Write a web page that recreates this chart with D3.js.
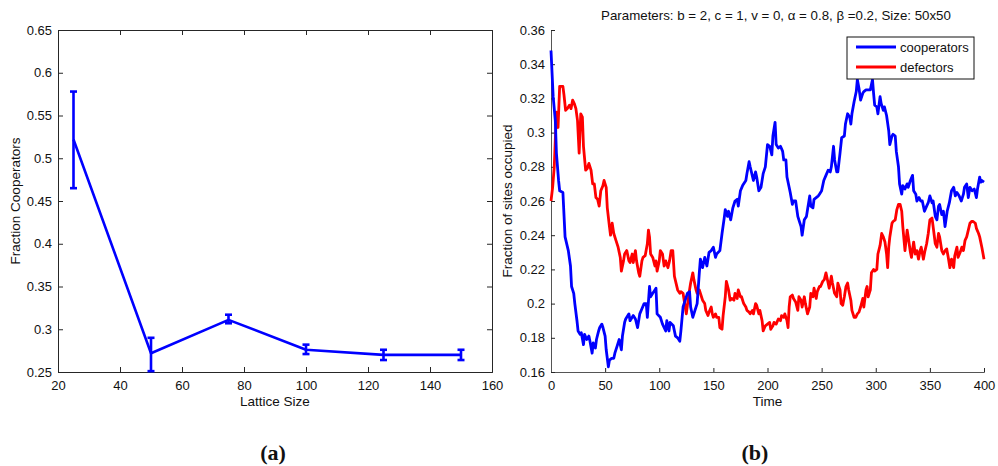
<!DOCTYPE html>
<html>
<head>
<meta charset="utf-8">
<script src="https://cdn.jsdelivr.net/npm/d3@7"></script>
<style>
  html, body { margin: 0; padding: 0; background: #fff; }
  svg { display: block; font-family: "Liberation Sans", Arial, Helvetica, sans-serif; }
</style>
</head>
<body>
<svg id="fig" width="998" height="466"></svg>
<script>
// ---- Panel (a): fraction of cooperators vs lattice size ----
const latticeSizes = [25, 50, 75, 100, 125, 150];
const coopMean     = [0.522, 0.272, 0.311, 0.276, 0.270, 0.270];
const coopLow      = [0.465, 0.251, 0.307, 0.271, 0.264, 0.264];
const coopHigh     = [0.578, 0.290, 0.317, 0.282, 0.276, 0.276];
const sizeTicks    = [20, 40, 60, 80, 100, 120, 140, 160];
const fracTicks    = [0.25, 0.3, 0.35, 0.4, 0.45, 0.5, 0.55, 0.6, 0.65];

// ---- Panel (b): occupation fractions over time ----
const coopTime = [0,2,4,5,7,8,11,13,16,18,19,21,22,24,25,27,28,30,31,33,35,36,38,39,41,42,44,45,47,48,50,51,53,54,56,58,59,61,63,65,66,68,69,72,73,76,78,80,82,84,86,88,89,91,92,94,96,97,98,101,103,106,107,109,110,113,115,117,119,120,122,124,126,128,129,131,133,135,137,138,140,142,144,146,148,150,152,153,156,158,160,161,163,164,166,168,170,172,173,175,177,180,181,183,184,187,189,190,192,194,196,198,200,202,204,205,207,208,210,212,214,215,217,218,220,221,223,224,226,228,229,231,232,234,236,237,239,240,242,243,245,247,248,250,252,254,256,258,259,261,262,264,265,267,268.5,271,272,274,276,277,278,280,282,283,284.5,286,288,289,291,292,295,297,298,299,301,302,304,305,307,308,310,312,313,315,316,318,319,321,322,324,325,327,329,330,332,334,335,337,338,340,341.5,343,345,347,348.5,350,352,353,355,356.5,358,359,361,362.5,364,366,368,370,372,373.5,375,377,379,381,382,384,385.5,387,389,391,393,394,396,397,398,400];
const coopFrac = [0.348,0.321,0.307,0.288,0.272,0.266,0.265,0.239,0.231,0.222,0.210,0.206,0.200,0.190,0.184,0.182,0.183,0.176,0.182,0.179,0.181,0.178,0.171,0.177,0.174,0.179,0.184,0.186,0.188,0.186,0.181,0.173,0.163,0.167,0.168,0.168,0.171,0.175,0.179,0.173,0.181,0.189,0.191,0.194,0.190,0.193,0.191,0.186,0.194,0.197,0.200,0.200,0.192,0.210,0.204,0.206,0.208,0.209,0.194,0.192,0.188,0.184,0.190,0.184,0.189,0.187,0.181,0.180,0.178,0.184,0.198,0.202,0.206,0.207,0.198,0.192,0.196,0.200,0.218,0.226,0.221,0.227,0.222,0.230,0.231,0.233,0.227,0.229,0.231,0.241,0.250,0.255,0.251,0.254,0.249,0.256,0.260,0.261,0.257,0.266,0.269,0.272,0.276,0.283,0.280,0.272,0.277,0.274,0.266,0.268,0.276,0.280,0.293,0.292,0.287,0.298,0.306,0.293,0.291,0.292,0.289,0.284,0.284,0.274,0.268,0.265,0.258,0.260,0.260,0.251,0.249,0.245,0.240,0.249,0.251,0.255,0.263,0.257,0.256,0.261,0.262,0.263,0.264,0.266,0.272,0.275,0.278,0.277,0.280,0.292,0.284,0.277,0.277,0.288,0.297,0.298,0.305,0.311,0.309,0.305,0.311,0.318,0.324,0.331,0.326,0.319,0.323,0.324,0.325,0.325,0.325,0.331,0.323,0.316,0.315,0.311,0.321,0.317,0.313,0.315,0.310,0.301,0.293,0.298,0.299,0.298,0.289,0.280,0.270,0.264,0.269,0.267,0.270,0.268,0.272,0.275,0.266,0.264,0.260,0.262,0.260,0.260,0.254,0.257,0.259,0.263,0.259,0.260,0.251,0.249,0.257,0.258,0.252,0.254,0.245,0.254,0.259,0.266,0.268,0.263,0.265,0.263,0.260,0.264,0.268,0.270,0.262,0.268,0.266,0.267,0.262,0.267,0.274,0.271,0.272,0.271];

const defTime = [0,1.5,3,4,5,6.5,8,9,11,12,13.5,15,17,18.5,20,21.5,23,24.5,26,27.5,29,30,32,33.5,35,37,38.5,40,41.5,43,44.5,46,48,49,51,52,54,55,56.5,58,60,62,64,65,67,68,70,72,73,75,76,78,79,81,82,84,85,87,89,90,91,92,94,96,97,98,100,101,103,104.5,106,108,109.5,111,112.5,114,115.5,117,119,120,122,123,125,126,128,129,131,132,134,135,137,139,140,142,143,145,146,148,149,150,152,153,155,156,158,159,161,162,164,165.5,167,169,170,172,173,175,176,178,180,181,183,184,186,187,189,190,192,193,195,196,198,200,202,203,205,206,208,210,212,213,215,216,218,219,220,221,223,224,226,228,229,231,232,234,235,237,239,240,242,243,245,246,248,249,251,252.5,254,256,257,259,260,262,264,265,267,268,269.5,271,272.5,274,275,277,278,280,281.5,283,284.5,286,288,289,291,292,293,295,296,298,299,301,302,304,305.5,307,308.5,310,311,312,313,315,316,318,319.5,321,322.5,324,325,327,329,330,332,333,335,336.5,338,339.5,341,342,344,345.5,347,348.5,350,352,353,355,356.5,358,359,361,362.5,364,365.5,367,368.5,370,372,373,375,376,378,379.5,381,382.5,384,385.5,387,388.5,390,392,393,395,396,398,400];
const defFrac = [0.260,0.268,0.280,0.296,0.312,0.303,0.327,0.327,0.327,0.322,0.313,0.314,0.316,0.314,0.319,0.317,0.314,0.307,0.288,0.311,0.309,0.292,0.278,0.279,0.282,0.278,0.270,0.270,0.262,0.261,0.257,0.266,0.269,0.272,0.268,0.256,0.245,0.240,0.247,0.241,0.237,0.233,0.227,0.219,0.225,0.229,0.231,0.225,0.224,0.229,0.224,0.231,0.225,0.218,0.216,0.225,0.227,0.228,0.235,0.243,0.239,0.229,0.227,0.222,0.225,0.219,0.225,0.231,0.229,0.222,0.225,0.221,0.225,0.231,0.231,0.216,0.212,0.208,0.206,0.207,0.206,0.202,0.194,0.199,0.208,0.212,0.218,0.214,0.208,0.206,0.208,0.204,0.202,0.200,0.196,0.193,0.195,0.198,0.194,0.192,0.194,0.192,0.192,0.186,0.185,0.193,0.204,0.213,0.208,0.202,0.203,0.202,0.206,0.203,0.208,0.204,0.204,0.200,0.198,0.196,0.195,0.194,0.196,0.194,0.200,0.199,0.194,0.196,0.190,0.184,0.187,0.188,0.189,0.185,0.187,0.189,0.188,0.191,0.190,0.193,0.192,0.194,0.190,0.186,0.198,0.204,0.205,0.203,0.201,0.196,0.204,0.202,0.198,0.204,0.200,0.194,0.198,0.206,0.204,0.209,0.203,0.207,0.210,0.210,0.213,0.214,0.218,0.212,0.209,0.216,0.212,0.206,0.204,0.212,0.208,0.200,0.199,0.204,0.210,0.212,0.208,0.202,0.196,0.192,0.192,0.194,0.195,0.198,0.203,0.198,0.208,0.210,0.204,0.208,0.218,0.220,0.219,0.220,0.229,0.234,0.241,0.239,0.236,0.229,0.221,0.233,0.239,0.247,0.248,0.249,0.255,0.258,0.258,0.254,0.245,0.231,0.243,0.239,0.230,0.227,0.236,0.229,0.231,0.226,0.231,0.233,0.226,0.231,0.235,0.241,0.249,0.250,0.245,0.235,0.233,0.241,0.239,0.231,0.229,0.231,0.232,0.227,0.221,0.226,0.221,0.228,0.233,0.227,0.230,0.233,0.231,0.237,0.239,0.243,0.247,0.248,0.248,0.247,0.244,0.241,0.239,0.233,0.226];

const timeTicks = [0, 50, 100, 150, 200, 250, 300, 350, 400];
const occTicks  = [0.16, 0.18, 0.2, 0.22, 0.24, 0.26, 0.28, 0.3, 0.32, 0.34, 0.36];
const seriesNames  = ["cooperators", "defectors"];
const seriesColors = ["#0000ff", "#ff0000"];
const titleText = "Parameters: b = 2, c = 1, v = 0, \u03b1 = 0.8, \u03b2 =0.2, Size: 50x50";

const svg = d3.select("#fig");
const axisColor = "#262626";
const labelSize = "13.5px";

function styleAxis(g) {
  g.selectAll("path.domain").attr("stroke", axisColor).attr("stroke-width", 1);
  g.selectAll(".tick line").attr("stroke", axisColor);
  g.selectAll(".tick text").attr("fill", "#111").style("font-size", "13px")
    .style("font-family", "'Liberation Sans', Arial, sans-serif");
}

// ================= Panel (a) =================
{
  const L = 58, R = 492, T = 30, B = 372;
  const x = d3.scaleLinear().domain([20, 160]).range([L, R]);
  const y = d3.scaleLinear().domain([0.25, 0.65]).range([B, T]);
  const g = svg.append("g");

  // bottom + left axes with inward ticks
  g.append("g").attr("transform", `translate(0,${B})`)
    .call(d3.axisBottom(x).tickValues(sizeTicks).tickSize(-5).tickPadding(9).tickFormat(d3.format("d")))
    .call(styleAxis);
  g.append("g").attr("transform", `translate(${L},0)`)
    .call(d3.axisLeft(y).tickValues(fracTicks).tickSize(-5).tickPadding(6).tickFormat(d => String(+d.toFixed(2))))
    .call(styleAxis);
  // top + right mirrored axes (box)
  g.append("g").attr("transform", `translate(0,${T})`)
    .call(d3.axisTop(x).tickValues(sizeTicks).tickSize(-5).tickFormat(""))
    .call(styleAxis);
  g.append("g").attr("transform", `translate(${R},0)`)
    .call(d3.axisRight(y).tickValues(fracTicks).tickSize(-5).tickFormat(""))
    .call(styleAxis);

  const pts = latticeSizes.map((s, i) => ({ s, m: coopMean[i], lo: coopLow[i], hi: coopHigh[i] }));
  const line = d3.line().x(d => x(d.s)).y(d => y(d.m));
  g.append("path").datum(pts).attr("d", line)
    .attr("fill", "none").attr("stroke", "#0000ff").attr("stroke-width", 2.6).attr("stroke-linejoin", "round");

  const eb = g.append("g").attr("stroke", "#0000ff").attr("stroke-width", 2.6);
  const cap = 3.5;
  pts.forEach(d => {
    eb.append("line").attr("x1", x(d.s)).attr("x2", x(d.s)).attr("y1", y(d.lo)).attr("y2", y(d.hi));
    eb.append("line").attr("x1", x(d.s) - cap).attr("x2", x(d.s) + cap).attr("y1", y(d.lo)).attr("y2", y(d.lo));
    eb.append("line").attr("x1", x(d.s) - cap).attr("x2", x(d.s) + cap).attr("y1", y(d.hi)).attr("y2", y(d.hi));
  });

  g.append("text").attr("x", (L + R) / 2).attr("y", 406).attr("text-anchor", "middle")
    .style("font-size", labelSize).attr("fill", "#111").text("Lattice Size");
  g.append("text").attr("transform", `translate(20,${(T + B) / 2}) rotate(-90)`).attr("text-anchor", "middle")
    .style("font-size", labelSize).attr("fill", "#111").text("Fraction Cooperators");
  g.append("text").attr("x", 273).attr("y", 460).attr("text-anchor", "middle")
    .style("font-family", "'Liberation Serif', 'DejaVu Serif', serif").style("font-weight", "bold")
    .style("font-size", "22px").attr("fill", "#111").text("(a)");
}

// ================= Panel (b) =================
{
  const L = 551, R = 984, T = 30, B = 372;
  const x = d3.scaleLinear().domain([0, 400]).range([L, R]);
  const y = d3.scaleLinear().domain([0.16, 0.36]).range([B, T]);
  const g = svg.append("g");

  g.append("g").attr("transform", `translate(0,${B})`)
    .call(d3.axisBottom(x).tickValues(timeTicks).tickSize(-4).tickPadding(9).tickFormat(d3.format("d")))
    .call(styleAxis);
  g.append("g").attr("transform", `translate(${L},0)`)
    .call(d3.axisLeft(y).tickValues(occTicks).tickSize(-4).tickPadding(6).tickFormat(d => String(+d.toFixed(2))))
    .call(styleAxis);
  g.selectAll("path.domain").attr("stroke", "#555");

  const series = [
    { name: seriesNames[0], color: seriesColors[0], data: coopTime.map((t, i) => [t, coopFrac[i]]) },
    { name: seriesNames[1], color: seriesColors[1], data: defTime.map((t, i) => [t, defFrac[i]]) }
  ];
  const line = d3.line().x(d => x(d[0])).y(d => y(d[1]));
  // defectors first so cooperators sit on top where they cross
  [series[1], series[0]].forEach(s => {
    g.append("path").datum(s.data).attr("d", line)
      .attr("fill", "none").attr("stroke", s.color).attr("stroke-width", 2.8)
      .attr("stroke-linejoin", "round");
  });

  // legend
  const lg = g.append("g").attr("transform", "translate(847,37)");
  lg.append("rect").attr("width", 127).attr("height", 42).attr("fill", "#fff")
    .attr("stroke", "#111").attr("stroke-width", 1);
  series.forEach((s, i) => {
    const yy = 10 + i * 20;
    lg.append("line").attr("x1", 9).attr("x2", 49).attr("y1", yy).attr("y2", yy)
      .attr("stroke", s.color).attr("stroke-width", 2.8);
    lg.append("text").attr("x", 53).attr("y", yy + 4.5).style("font-size", "13px")
      .attr("fill", "#111").text(s.name);
  });

  g.append("text").attr("x", 776).attr("y", 20).attr("text-anchor", "middle")
    .style("font-size", "13.3px").attr("fill", "#111").text(titleText);
  g.append("text").attr("x", (L + R) / 2).attr("y", 406).attr("text-anchor", "middle")
    .style("font-size", labelSize).attr("fill", "#111").text("Time");
  g.append("text").attr("transform", `translate(512,${(T + B) / 2}) rotate(-90)`).attr("text-anchor", "middle")
    .style("font-size", labelSize).attr("fill", "#111").text("Fraction of sites occupied");
  g.append("text").attr("x", 755).attr("y", 460).attr("text-anchor", "middle")
    .style("font-family", "'Liberation Serif', 'DejaVu Serif', serif").style("font-weight", "bold")
    .style("font-size", "22px").attr("fill", "#111").text("(b)");
}
</script>
</body>
</html>
